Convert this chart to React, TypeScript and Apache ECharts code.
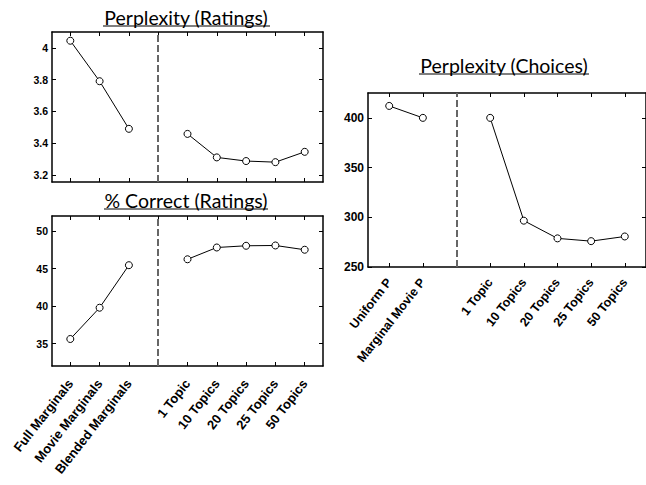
import React, { useEffect, useRef } from "react";
import * as echarts from "echarts";

const ratingCategories = [
  "Full Marginals",
  "Movie Marginals",
  "Blended Marginals",
  "",
  "1 Topic",
  "10 Topics",
  "20 Topics",
  "25 Topics",
  "50 Topics",
];
const perplexityRatings: (number | null)[] = [4.045, 3.79, 3.49, null, 3.458, 3.31, 3.287, 3.28, 3.345];
const correctRatings: (number | null)[] = [35.6, 39.77, 45.44, null, 46.23, 47.8, 48.03, 48.07, 47.5];

const choiceCategories = [
  "Uniform P",
  "Marginal Movie P",
  "",
  "1 Topic",
  "10 Topics",
  "20 Topics",
  "25 Topics",
  "50 Topics",
];
const perplexityChoices: (number | null)[] = [412, 400, null, 400, 296.6, 278.8, 276, 280.7];

const perplexityTicks = [3.2, 3.4, 3.6, 3.8, 4];
const correctTicks = [35, 40, 45, 50];
const choiceTicks = [250, 300, 350, 400];

const titles = ["Perplexity (Ratings)", "% Correct (Ratings)", "Perplexity (Choices)"];

const AXIS_COLOR = "#000";
const LABEL_FONT = "Liberation Sans";

function positions(cats: string[]) {
  return cats.map((_, i) => i + 1);
}
function labelPositions(cats: string[]) {
  return cats.map((c, i) => (c ? i + 1 : -1)).filter((v) => v > 0);
}
function gapPosition(cats: string[]) {
  return cats.indexOf("") + 1;
}

function xAxis(gridIndex: number, cats: string[], min: number, max: number, position: string, showLabels: boolean, fontSize: number, margin: number) {
  return {
    type: "value",
    gridIndex,
    position,
    min,
    max,
    axisLine: { show: true, onZero: false, lineStyle: { color: AXIS_COLOR, width: 1.5 } },
    axisTick: { show: true, inside: true, length: 4, customValues: positions(cats), lineStyle: { color: AXIS_COLOR, width: 1 } },
    axisLabel: {
      show: showLabels,
      customValues: labelPositions(cats),
      rotate: 52,
      margin,
      color: "#000",
      fontFamily: LABEL_FONT,
      fontWeight: "bold",
      fontSize,
      formatter: (v: number) => cats[Math.round(v) - 1] || "",
    },
    splitLine: { show: false },
  };
}

function yAxis(gridIndex: number, ticks: number[], min: number, max: number, position: string, showLabels: boolean, fontSize: number, decimals: number) {
  return {
    type: "value",
    gridIndex,
    position,
    min,
    max,
    axisLine: { show: true, onZero: false, lineStyle: { color: AXIS_COLOR, width: 1.5 } },
    axisTick: { show: true, inside: true, length: 4, customValues: ticks, lineStyle: { color: AXIS_COLOR, width: 1 } },
    axisLabel: {
      show: showLabels,
      customValues: ticks,
      margin: 4,
      color: "#000",
      fontFamily: LABEL_FONT,
      fontWeight: "bold",
      fontSize,
      formatter: (v: number) => String(+v.toFixed(decimals)),
    },
    splitLine: { show: false },
  };
}

function lineSeries(idx: number, cats: string[], values: (number | null)[]) {
  return {
    type: "line",
    xAxisIndex: idx * 2,
    yAxisIndex: idx * 2,
    data: values.map((v, i) => [i + 1, v === null ? "-" : v]),
    symbol: "circle",
    symbolSize: 7,
    showSymbol: true,
    lineStyle: { color: "#000", width: 1 },
    itemStyle: { color: "#fff", borderColor: "#000", borderWidth: 1 },
    markLine: {
      silent: true,
      symbol: "none",
      label: { show: false },
      lineStyle: { color: "#666", width: 2, type: [7, 3] },
      data: [{ xAxis: gapPosition(cats) }],
    },
    z: 3,
  };
}

const TITLE_FONT = "19.5px Lato, 'Open Sans', sans-serif";

export default function App() {
  const ref = useRef<HTMLDivElement>(null);
  useEffect(() => {
    if (!ref.current) return;
    const chart = echarts.init(ref.current, null, { renderer: "svg" });
    const option: any = {
      animation: false,
      backgroundColor: "#fff",
      grid: [
        { left: 52, top: 32, width: 271, height: 150 },
        { left: 52, top: 216, width: 271, height: 150 },
        { left: 368, top: 93, right: -3, height: 174 },
      ],
      xAxis: [
        xAxis(0, ratingCategories, 0.375, 9.625, "bottom", false, 13, 15),
        xAxis(0, ratingCategories, 0.375, 9.625, "top", false, 13, 15),
        xAxis(1, ratingCategories, 0.375, 9.625, "bottom", true, 13, 15),
        xAxis(1, ratingCategories, 0.375, 9.625, "top", false, 13, 15),
        xAxis(2, choiceCategories, 0.37, 8.63, "bottom", true, 12.5, 13),
        xAxis(2, choiceCategories, 0.37, 8.63, "top", false, 12.5, 13),
      ],
      yAxis: [
        yAxis(0, perplexityTicks, 3.155, 4.1, "left", true, 10.5, 1),
        yAxis(0, perplexityTicks, 3.155, 4.1, "right", false, 10.5, 1),
        yAxis(1, correctTicks, 32, 52, "left", true, 10.5, 0),
        yAxis(1, correctTicks, 32, 52, "right", false, 10.5, 0),
        yAxis(2, choiceTicks, 250, 425, "left", true, 12, 0),
        yAxis(2, choiceTicks, 250, 425, "right", false, 12, 0),
      ],
      series: [
        lineSeries(0, ratingCategories, perplexityRatings),
        lineSeries(1, ratingCategories, correctRatings),
        lineSeries(2, choiceCategories, perplexityChoices),
      ],
      graphic: [
        { type: "text", x: 186, y: 7, style: { text: titles[0], font: TITLE_FONT, fill: "#000", textAlign: "center", textVerticalAlign: "top" } },
        { type: "line", shape: { x1: 103, y1: 26, x2: 270, y2: 26 }, style: { stroke: "#000", lineWidth: 1.2 } },
        { type: "text", x: 186, y: 190, style: { text: titles[1], font: TITLE_FONT, fill: "#000", textAlign: "center", textVerticalAlign: "top" } },
        { type: "line", shape: { x1: 104, y1: 209, x2: 268, y2: 209 }, style: { stroke: "#000", lineWidth: 1.2 } },
        { type: "text", x: 504, y: 55, style: { text: titles[2], font: TITLE_FONT, fill: "#000", textAlign: "center", textVerticalAlign: "top" } },
        { type: "line", shape: { x1: 419, y1: 74, x2: 589, y2: 74 }, style: { stroke: "#000", lineWidth: 1.2 } },
      ],
    };
    chart.setOption(option);
    return () => chart.dispose();
  }, []);
  return (
    <div
      ref={ref}
      style={{ position: "fixed", left: 0, top: 0, width: 646, height: 485, background: "#fff" }}
    />
  );
}
